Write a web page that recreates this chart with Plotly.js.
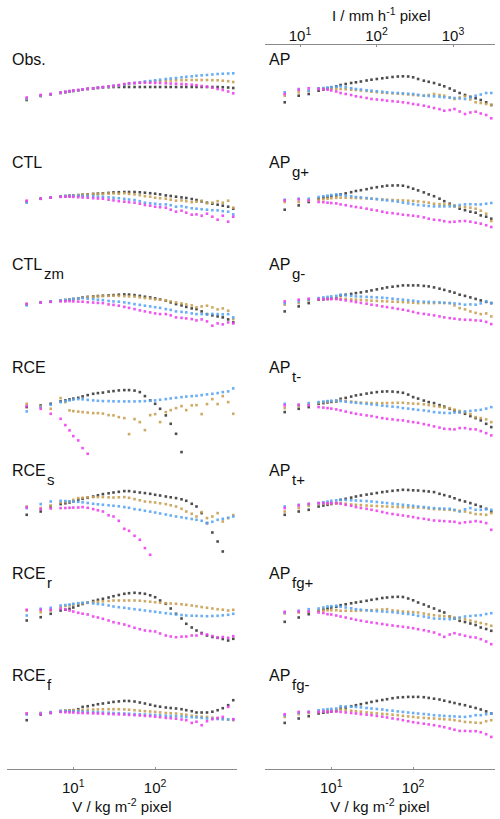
<!DOCTYPE html>
<html><head><meta charset="utf-8">
<script src="https://cdn.plot.ly/plotly-3.0.1.min.js"></script>
<style>body{margin:0;background:#fff}#c{width:500px;height:819px}</style>
</head><body><div id="c"></div>
<script>
// V bins (kg m-2 pixel)
const V = [2.7,4,5.3,7,8,9,10,11.5,13,15,17.5,20,23,27,31,36,42,48,56,65,75,87,100,115,135,155,180,210,240,280,320,370,430,500,580,670,780,900];
const mainLabels = ['Obs.','CTL','CTL','RCE','RCE','RCE','RCE','AP','AP','AP','AP','AP','AP','AP'];
const subLabels  = ['','','zm','','s','r','f','','g+','g-','t-','t+','fg+','fg-'];
const vTicks = [10,100], vTickText = ['10<sup>1</sup>','10<sup>2</sup>'];
const iTicks = [10,100,1000], iTickText = ['10<sup>1</sup>','10<sup>2</sup>','10<sup>3</sup>'];
const vTitle = 'V / kg m<sup>-2</sup> pixel';
const iTitle = 'I / mm h<sup>-1</sup> pixel';
const N = null;
// k = black, g = gold, b = blue, m = magenta (relative units)
const obs_k=[-0.1,0.3,0.45,0.6,0.68,0.75,0.8,0.87,0.93,1.0,1.05,1.1,1.15,1.18,1.2,1.2,1.2,1.2,1.2,1.2,1.2,1.2,1.2,1.2,1.2,1.2,1.2,1.2,1.2,1.2,1.2,1.2,1.2,1.2,1.2,1.18,1.15,1.1];
const obs_g=[0,0.35,0.47,0.62,0.7,0.77,0.82,0.88,0.94,1.0,1.06,1.12,1.17,1.22,1.28,1.35,1.45,1.53,1.58,1.63,1.7,1.73,1.77,1.8,1.83,1.85,1.87,1.88,1.9,1.9,1.9,1.9,1.9,1.88,1.87,1.83,1.78,1.7];
const obs_b=[0.05,0.37,0.48,0.63,0.71,0.78,0.83,0.89,0.95,1.02,1.07,1.13,1.18,1.24,1.3,1.37,1.45,1.55,1.6,1.67,1.75,1.8,1.87,1.93,2.0,2.05,2.1,2.17,2.22,2.27,2.32,2.37,2.4,2.45,2.5,2.53,2.55,2.57];
const obs_m=[0.15,0.4,0.5,0.65,0.72,0.8,0.85,0.9,0.96,1.03,1.08,1.14,1.2,1.27,1.33,1.4,1.5,1.57,1.6,1.62,1.63,1.62,1.6,1.6,1.57,1.55,1.53,1.5,1.47,1.43,1.38,1.3,1.23,1.13,1.0,0.9,0.75,0.57];

const ctl_k=[0,0.3,0.43,0.53,0.57,0.6,0.62,0.66,0.7,0.74,0.78,0.81,0.84,0.88,0.93,0.95,0.97,0.97,0.97,0.94,0.9,0.85,0.8,0.73,0.63,0.57,0.5,0.43,0.37,0.27,0.17,0.03,-0.1,-0.2,-0.3,-0.4,-0.5,-0.7];
const ctl_g=[0.05,0.3,0.4,0.5,0.55,0.58,0.6,0.65,0.7,0.72,0.75,0.78,0.8,0.82,0.83,0.8,0.85,0.78,0.73,0.65,0.55,0.5,0.4,0.35,0.3,0.2,0.1,0.13,0.05,-0.05,0,0.1,-0.15,-0.1,0.05,-0.1,0.1,-0.6];
const ctl_b=[-0.1,0.28,0.42,0.52,0.55,0.57,0.58,0.6,0.57,0.56,0.55,0.52,0.5,0.45,0.4,0.35,0.28,0.22,0.17,0.05,-0.1,-0.15,-0.2,-0.27,-0.27,-0.35,-0.5,-0.45,-0.55,-0.65,-0.7,-0.75,-0.8,-0.85,-0.87,-0.95,-1.0,-1.27];
const ctl_m=[0.1,0.3,0.4,0.48,0.5,0.5,0.48,0.45,0.42,0.4,0.35,0.32,0.3,0.2,0.13,0.05,0,-0.05,-0.1,-0.2,-0.33,-0.4,-0.5,-0.55,-0.6,-0.8,-1.0,-0.9,-1.1,-1.3,-1.27,-1.4,-1.2,-1.5,-1.8,-1.4,-2.0,-1.5];

const ctlzm_k=[0,0.2,0.27,0.37,0.42,0.47,0.53,0.6,0.7,0.75,0.8,0.84,0.87,0.9,0.93,0.97,1.0,0.98,0.93,0.85,0.77,0.7,0.6,0.5,0.37,0.2,0.03,-0.1,-0.25,-0.4,-0.47,-0.7,-0.97,-1.1,-1.2,-1.3,-1.5,-1.8];
const ctlzm_g=[0.05,0.22,0.3,0.4,0.45,0.5,0.55,0.62,0.68,0.73,0.78,0.8,0.83,0.85,0.87,0.85,0.83,0.8,0.78,0.7,0.63,0.58,0.5,0.47,0.4,0.3,0.2,0.1,0.0,-0.1,-0.3,-0.2,-0.13,-0.3,-0.5,-0.4,-0.63,-1.47];
const ctlzm_b=[-0.1,0.2,0.3,0.4,0.45,0.5,0.55,0.6,0.63,0.57,0.52,0.47,0.43,0.35,0.3,0.27,0.2,0.13,0.03,-0.05,-0.13,-0.2,-0.28,-0.35,-0.47,-0.55,-0.7,-0.75,-0.8,-0.9,-0.97,-0.97,-1.0,-0.95,-0.97,-1.0,-0.97,-1.3];
const ctlzm_m=[0.05,0.2,0.25,0.3,0.3,0.32,0.3,0.28,0.27,0.22,0.18,0.15,0.13,0.0,-0.05,-0.13,-0.25,-0.35,-0.47,-0.6,-0.7,-0.8,-0.9,-0.97,-0.97,-1.1,-1.3,-1.35,-1.4,-1.47,-1.6,-1.5,-1.7,-2.13,-1.9,-2.0,-1.8,-1.9];

const rce_k=[0,0.17,0.33,0.57,0.67,0.77,0.85,0.93,1.07,1.2,1.33,1.4,1.45,1.55,1.6,1.67,1.7,1.7,1.65,1.5,1.1,0.67,0.33,-0.17,-0.83,-1.67,-2.67,-4.5,N,N,N,N,N,N,N,N,N,N];
const rce_g=[0.33,0.1,-0.17,0.9,0.5,-0.33,-0.4,-0.45,-0.5,-0.55,-0.6,-0.6,-0.65,-0.8,-0.83,-1.0,-1.1,-2.7,-1.2,-1.5,-2.3,-0.8,-0.7,-1.5,-0.5,-0.3,-0.1,0.1,-0.3,0.17,0.2,-0.7,0.3,0.8,0.3,1.1,0.5,-0.67];
const rce_b=[-0.43,0,0.23,0.5,0.6,0.67,0.75,0.8,0.78,0.72,0.67,0.63,0.6,0.6,0.58,0.57,0.57,0.57,0.57,0.58,0.6,0.63,0.67,0.73,0.8,0.87,0.93,1.0,1.05,1.1,1.13,1.2,1.27,1.33,1.4,1.5,1.57,1.87];
const rce_m=[0.1,-0.17,-0.67,-1.17,-1.8,-2.33,-2.9,-3.33,-4.1,-4.67,-5.2,N,N,N,N,N,N,N,N,N,N,N,N,N,N,N,N,N,N,N,N,N,N,N,N,N,N,N];

const rces_k=[-0.5,-0.17,0.33,0.57,0.65,0.73,0.85,1.0,1.1,1.2,1.33,1.45,1.57,1.65,1.73,1.8,1.87,1.87,1.8,1.73,1.67,1.6,1.5,1.43,1.33,1.25,1.17,1.05,0.9,0.6,0.33,-0.33,-1.33,-2.27,-3.17,-4.17,N,N];
const rces_g=[0.33,0.17,0.43,0.73,0.78,0.83,1.0,1.17,1.2,1.25,1.27,1.27,1.27,1.25,1.23,1.25,1.27,1.2,1.07,0.95,0.83,0.78,0.73,0.65,0.57,0.45,0.33,0.1,-0.17,-0.4,-0.67,-0.23,-0.83,-0.67,-0.33,-1.17,-0.83,-0.53];
const rces_b=[0.17,0.57,0.83,0.9,0.87,0.85,0.82,0.8,0.75,0.68,0.6,0.55,0.5,0.45,0.4,0.35,0.27,0.2,0.07,0.0,-0.1,-0.18,-0.27,-0.37,-0.47,-0.57,-0.67,-0.75,-0.83,-0.92,-1.0,-1.1,-1.33,-1.2,-1.0,-0.9,-0.8,-0.67];
const rces_m=[0.23,0.07,0.13,0.17,0.18,0.2,0.22,0.23,0.27,0.2,0.07,-0.05,-0.17,-0.55,-0.67,-1.1,-1.9,-2.1,-2.6,-3.0,-3.83,-4.5,N,N,N,N,N,N,N,N,N,N,N,N,N,N,N,N];

const rcer_k=[-0.8,-0.47,-0.13,0.2,0.28,0.37,0.5,0.7,0.85,0.97,1.15,1.27,1.37,1.5,1.63,1.75,1.87,1.93,1.97,1.93,1.87,1.72,1.53,1.2,0.87,0.4,-0.13,-0.6,-1.13,-1.5,-1.8,-2.05,-2.3,-2.45,-2.53,-2.65,-2.8,-2.63];
const rcer_g=[0.2,0.03,0.2,0.53,0.65,0.7,0.78,0.87,0.93,0.98,1.03,1.08,1.12,1.15,1.2,1.2,1.2,1.2,1.2,1.18,1.13,1.08,1.03,0.98,0.93,0.9,0.87,0.82,0.77,0.7,0.63,0.55,0.47,0.4,0.33,0.28,0.2,0.27];
const rcer_b=[-0.3,0.37,0.47,0.7,0.75,0.8,0.87,0.93,0.97,1.0,0.9,0.85,0.8,0.7,0.6,0.53,0.47,0.4,0.33,0.27,0.2,0.13,0.07,0.0,-0.07,-0.13,-0.2,-0.25,-0.3,-0.32,-0.33,-0.35,-0.37,-0.35,-0.33,-0.28,-0.23,-0.13];
const rcer_m=[0.27,0.27,0.27,0.37,0.3,0.2,0.1,-0.03,-0.12,-0.2,-0.4,-0.5,-0.63,-0.8,-0.97,-1.08,-1.2,-1.35,-1.53,-1.67,-1.8,-1.85,-1.9,-2.1,-2.3,-2.4,-2.47,-2.42,-2.4,-2.3,-2.3,-2.13,-2.2,-2.35,-2.53,-2.45,-2.53,-2.37];

const rcef_k=[-0.5,0.07,0.23,0.37,0.43,0.47,0.5,0.6,0.83,0.9,1.0,1.1,1.17,1.25,1.33,1.38,1.43,1.42,1.37,1.27,1.17,1.05,0.93,0.85,0.77,0.72,0.67,0.6,0.5,0.4,0.27,0.27,0.27,0.35,0.5,0.7,1.0,1.5];
const rcef_g=[0.17,0.23,0.3,0.43,0.45,0.47,0.5,0.5,0.52,0.55,0.57,0.58,0.59,0.6,0.6,0.6,0.58,0.55,0.5,0.45,0.4,0.37,0.33,0.28,0.22,0.2,0.17,0.1,0.05,-0.05,-0.1,-0.15,-0.17,-0.25,-0.33,-0.38,-0.43,-0.5];
const rcef_b=[0.07,0.17,0.3,0.43,0.42,0.4,0.4,0.4,0.38,0.35,0.32,0.3,0.27,0.25,0.22,0.2,0.17,0.15,0.12,0.1,0.07,0.05,0.02,0.0,-0.05,-0.08,-0.1,-0.13,-0.18,-0.2,-0.23,-0.27,-0.33,-0.35,-0.38,-0.4,-0.43,-0.43];
const rcef_m=[0.17,0.13,0.23,0.33,0.3,0.28,0.27,0.23,0.22,0.2,0.18,0.17,0.15,0.12,0.1,0.08,0.07,0.03,0.0,-0.03,-0.07,-0.1,-0.15,-0.2,-0.27,-0.3,-0.35,-0.43,-0.5,-0.77,-0.65,-1.0,-0.6,-0.4,-0.27,-0.17,0.83,-0.4];

const ap_k=[-0.33,0.33,0.5,0.83,0.95,1.07,1.15,1.27,1.4,1.5,1.6,1.67,1.75,1.85,1.93,2.0,2.07,2.13,2.2,2.25,2.27,2.25,2.17,2.0,1.83,1.72,1.6,1.43,1.27,1.05,0.83,0.6,0.4,0.22,0.07,-0.1,-0.33,-0.6];
const ap_g=[0.33,0.67,0.8,1.07,1.05,1.03,1.02,1.0,1.0,0.97,0.93,0.9,0.85,0.8,0.73,0.68,0.63,0.6,0.57,0.53,0.5,0.45,0.4,0.37,0.33,0.4,0.5,0.4,0.33,0.15,0.0,0.15,0.27,-0.05,-0.33,-0.4,-0.5,-0.6];
const ap_b=[0.67,1.0,0.83,1.07,1.1,1.15,1.2,1.23,1.27,1.18,1.08,1.0,0.95,0.88,0.83,0.78,0.72,0.67,0.62,0.6,0.57,0.53,0.5,0.42,0.33,0.3,0.27,0.22,0.17,0.13,0.1,0.05,0.0,0.15,0.33,0.45,0.6,0.6];
const ap_m=[0.5,0.93,1.07,1.0,0.98,0.93,0.85,0.75,0.6,0.5,0.4,0.27,0.2,0.1,0.0,-0.05,-0.1,-0.17,-0.22,-0.27,-0.33,-0.4,-0.5,-0.57,-0.67,-0.78,-0.9,-1.02,-1.17,-1.1,-1.0,-1.25,-1.5,-1.35,-1.27,-1.45,-1.6,-1.93];

const apgp_k=[-0.8,-0.37,-0.03,0.3,0.4,0.47,0.55,0.63,0.73,0.83,0.95,1.07,1.15,1.25,1.37,1.45,1.53,1.6,1.62,1.63,1.6,1.47,1.3,1.13,0.93,0.73,0.55,0.3,0.05,-0.2,-0.45,-0.7,-0.85,-1.0,-1.1,-1.37,-1.5,-1.7];
const apgp_g=[-0.03,-0.03,0.1,0.2,0.25,0.3,0.35,0.38,0.4,0.4,0.38,0.37,0.35,0.33,0.3,0.27,0.23,0.2,0.17,0.15,0.13,0.1,0.07,0.03,-0.03,-0.1,-0.2,-0.25,-0.28,-0.3,-0.4,-0.5,-0.55,-0.6,-0.7,-0.9,-1.2,-1.93];
const apgp_b=[0.2,0.3,0.3,0.47,0.55,0.6,0.67,0.73,0.68,0.63,0.55,0.47,0.43,0.37,0.3,0.25,0.18,0.13,0.07,0.0,-0.1,-0.17,-0.25,-0.33,-0.38,-0.43,-0.47,-0.47,-0.47,-0.47,-0.4,-0.33,-0.27,-0.25,-0.27,-0.27,-0.2,-0.13];
const apgp_m=[0.13,0.23,0.13,-0.03,-0.05,-0.1,-0.13,-0.17,-0.27,-0.35,-0.45,-0.53,-0.6,-0.7,-0.8,-0.88,-1.0,-1.1,-1.15,-1.22,-1.3,-1.35,-1.4,-1.47,-1.57,-1.7,-1.8,-1.85,-1.95,-2.03,-2.0,-1.95,-1.93,-2.0,-2.1,-2.2,-2.35,-2.53];

const apgm_k=[-0.7,-0.2,0.13,0.47,0.5,0.55,0.6,0.63,0.9,0.97,1.05,1.13,1.2,1.3,1.4,1.5,1.6,1.7,1.77,1.83,1.9,1.9,1.9,1.9,1.85,1.8,1.7,1.57,1.45,1.3,1.17,0.97,0.85,0.7,0.55,0.4,0.25,0.13];
const apgm_g=[-0.03,0.13,0.4,0.53,0.55,0.56,0.57,0.57,0.57,0.55,0.5,0.47,0.45,0.4,0.37,0.35,0.32,0.3,0.27,0.25,0.23,0.2,0.17,0.13,0.15,0.13,0.13,0.15,0.13,0.13,-0.1,-0.37,-0.5,-0.7,-0.85,-0.97,-0.9,-1.2];
const apgm_b=[0.13,0.3,0.47,0.63,0.7,0.75,0.8,0.85,0.97,0.9,0.85,0.8,0.78,0.75,0.73,0.7,0.67,0.63,0.57,0.52,0.47,0.42,0.37,0.3,0.27,0.25,0.23,0.2,0.17,0.13,0.1,0.05,-0.03,0.0,-0.03,0.1,0.3,0.13];
const apgm_m=[0.3,0.47,0.57,0.53,0.53,0.53,0.53,0.53,0.47,0.4,0.32,0.23,0.15,0.07,-0.03,-0.1,-0.2,-0.27,-0.35,-0.45,-0.53,-0.63,-0.75,-0.87,-0.95,-1.02,-1.1,-1.2,-1.3,-1.37,-1.43,-1.5,-1.53,-1.55,-1.6,-1.63,-1.75,-1.97];

const aptm_k=[-0.5,-0.17,0,0.33,0.4,0.47,0.52,0.57,0.83,0.92,1.05,1.17,1.25,1.35,1.43,1.5,1.55,1.57,1.55,1.5,1.43,1.25,1.0,0.85,0.65,0.5,0.4,0.2,0.05,-0.17,-0.35,-0.5,-0.67,-0.9,-1.1,-1.33,-1.67,-2.0];
const aptm_g=[-0.1,0.1,0.3,0.43,0.5,0.55,0.6,0.63,0.67,0.6,0.55,0.5,0.45,0.43,0.4,0.4,0.4,0.4,0.42,0.43,0.43,0.38,0.35,0.33,0.28,0.2,0.1,0.03,-0.05,-0.1,-0.25,-0.38,-0.5,-0.7,-1.0,-1.1,-1.23,-1.5];
const aptm_b=[0.33,0.23,0.4,0.5,0.55,0.6,0.63,0.67,0.6,0.55,0.48,0.43,0.38,0.32,0.27,0.22,0.15,0.1,0.05,0.0,-0.1,-0.15,-0.22,-0.28,-0.33,-0.4,-0.5,-0.55,-0.58,-0.6,-0.55,-0.5,-0.43,-0.38,-0.33,-0.27,-0.15,0.0];
const aptm_m=[0.17,0.23,0.17,0.0,-0.05,-0.1,-0.15,-0.23,-0.33,-0.45,-0.57,-0.67,-0.75,-0.83,-0.9,-1.0,-1.1,-1.17,-1.23,-1.3,-1.33,-1.43,-1.5,-1.57,-1.7,-1.8,-1.93,-2.05,-2.17,-2.2,-2.23,-2.1,-2.1,-2.2,-2.23,-2.4,-2.6,-2.83];

const aptp_k=[-0.5,-0.17,0,0.33,0.43,0.5,0.58,0.67,1.0,1.1,1.22,1.33,1.43,1.52,1.6,1.68,1.77,1.83,1.9,1.95,2.0,1.98,1.95,1.93,1.88,1.83,1.77,1.6,1.47,1.33,1.15,0.97,0.83,0.67,0.5,0.33,0.1,-0.17];
const aptp_g=[-0.17,0.17,0.4,0.57,0.6,0.62,0.63,0.65,0.67,0.6,0.53,0.5,0.47,0.43,0.4,0.38,0.35,0.33,0.3,0.28,0.27,0.25,0.23,0.23,0.2,0.13,0.07,0.05,0.02,0.0,-0.05,-0.1,-0.17,-0.3,-0.43,-0.45,-0.5,-0.33];
const aptp_b=[0.33,0.5,0.57,0.67,0.75,0.82,0.9,0.95,1.0,0.98,0.95,0.93,0.9,0.87,0.83,0.78,0.72,0.67,0.62,0.55,0.5,0.45,0.4,0.33,0.28,0.22,0.17,0.13,0.12,0.1,0.0,-0.17,0.05,0.17,0.0,0.0,0.05,0.0];
const aptp_m=[0.17,0.43,0.6,0.67,0.67,0.67,0.67,0.67,0.6,0.5,0.4,0.27,0.18,0.1,0.0,-0.1,-0.22,-0.33,-0.42,-0.5,-0.57,-0.65,-0.73,-0.83,-0.9,-0.98,-1.07,-1.1,-1.13,-1.17,-1.2,-1.33,-1.25,-1.2,-1.13,-1.2,-1.33,-2.0];

const apfgp_k=[-0.93,-0.5,-0.17,0.17,0.3,0.4,0.5,0.57,0.73,0.82,0.92,1.0,1.08,1.17,1.27,1.35,1.45,1.5,1.55,1.57,1.55,1.4,1.22,1.0,0.8,0.6,0.4,0.17,0.0,-0.4,-0.6,-0.83,-0.95,-1.1,-1.25,-1.5,-1.65,-1.83];
const apfgp_g=[-0.1,0.0,0.07,0.17,0.2,0.22,0.23,0.23,0.17,0.17,0.17,0.17,0.2,0.23,0.23,0.27,0.3,0.33,0.2,0.17,0.1,0.07,0.03,0.0,-0.1,-0.2,-0.27,-0.33,-0.37,-0.4,-0.5,-0.57,-0.67,-0.8,-0.93,-1.05,-1.17,-1.33];
const apfgp_b=[0.0,0.17,0.33,0.4,0.5,0.6,0.63,0.67,0.57,0.5,0.42,0.33,0.28,0.22,0.17,0.13,0.1,0.07,0.03,-0.03,-0.1,-0.15,-0.22,-0.33,-0.4,-0.5,-0.6,-0.62,-0.65,-0.67,-0.6,-0.5,-0.4,-0.35,-0.3,-0.27,-0.15,-0.07];
const apfgp_m=[0.07,0.1,0.1,0.0,-0.05,-0.17,-0.2,-0.3,-0.4,-0.5,-0.62,-0.73,-0.82,-0.92,-1.0,-1.07,-1.15,-1.23,-1.3,-1.37,-1.43,-1.5,-1.57,-1.67,-1.77,-1.88,-2.0,-2.2,-2.43,-2.2,-2.07,-2.2,-2.33,-2.45,-2.5,-2.67,-2.9,-3.17];

const apfgm_k=[-0.77,-0.33,-0.1,0.17,0.25,0.3,0.37,0.43,0.67,0.77,0.9,1.0,1.1,1.22,1.33,1.43,1.52,1.6,1.7,1.77,1.8,1.83,1.83,1.83,1.8,1.73,1.65,1.57,1.45,1.33,1.22,1.1,1.0,0.85,0.72,0.57,0.38,0.17];
const apfgm_g=[-0.17,0.1,0.23,0.33,0.4,0.45,0.5,0.55,0.57,0.5,0.45,0.4,0.35,0.28,0.23,0.18,0.13,0.1,0.05,0.0,-0.07,-0.12,-0.17,-0.23,-0.27,-0.3,-0.33,-0.37,-0.4,-0.43,-0.5,-0.57,-0.67,-0.7,-0.75,-0.77,-0.6,-0.5];
const apfgm_b=[0.0,0.23,0.33,0.5,0.55,0.6,0.63,0.67,0.9,0.87,0.85,0.83,0.78,0.72,0.67,0.62,0.57,0.5,0.45,0.38,0.33,0.27,0.22,0.17,0.12,0.07,0.0,-0.03,-0.07,-0.1,-0.12,-0.15,-0.17,-0.1,0.0,0.0,0.1,0.17];
const apfgm_m=[0.1,0.33,0.33,0.33,0.35,0.35,0.37,0.37,0.33,0.27,0.22,0.17,0.1,0.05,0.0,-0.07,-0.15,-0.23,-0.32,-0.4,-0.5,-0.6,-0.7,-0.77,-0.85,-0.92,-1.0,-1.1,-1.2,-1.33,-1.45,-1.57,-1.57,-1.6,-1.6,-1.7,-1.9,-2.17];

const panelSeries = [
  [obs_k,obs_g,obs_b,obs_m],[ctl_k,ctl_g,ctl_b,ctl_m],[ctlzm_k,ctlzm_g,ctlzm_b,ctlzm_m],
  [rce_k,rce_g,rce_b,rce_m],[rces_k,rces_g,rces_b,rces_m],[rcer_k,rcer_g,rcer_b,rcer_m],[rcef_k,rcef_g,rcef_b,rcef_m],
  [ap_k,ap_g,ap_b,ap_m],[apgp_k,apgp_g,apgp_b,apgp_m],[apgm_k,apgm_g,apgm_b,apgm_m],
  [aptm_k,aptm_g,aptm_b,aptm_m],[aptp_k,aptp_g,aptp_b,aptp_m],[apfgp_k,apfgp_g,apfgp_b,apfgp_m],[apfgm_k,apfgm_g,apfgm_b,apfgm_m]
];

// ---- styling / layout ----
const W = 500, H = 819;
const colors = ['#3a3a3a','#c9a052','#5aa5f5','#f040f0'];
const FONT = 'Liberation Sans, Arial, Helvetica, sans-serif';
const colX = [[7,237],[265,495]];
const topY = 45, rowH = 102.7, bottomY = 769, baseOff = 54;
const xr = [Math.log10(1.55), Math.log10(1000)];
const txt = {family: FONT, color: '#111'};

const measure = document.createElement('canvas').getContext('2d');
measure.font = '16px "Liberation Sans"';

const traces = [];
const layout = {
  width: W, height: H, margin: {l:0,r:0,t:0,b:0},
  paper_bgcolor: '#fff', plot_bgcolor: 'rgba(0,0,0,0)', showlegend: false,
  font: txt, annotations: []
};

for (let i = 0; i < 14; i++) {
  const col = i < 7 ? 0 : 1, row = i % 7, n = i + 1;
  const top = topY + rowH * row;
  const bot = row === 6 ? bottomY : top + rowH;
  const xs = n === 1 ? '' : String(n);
  const xa = {
    type: 'log', range: xr, domain: [colX[col][0] / W, colX[col][1] / W], anchor: 'y' + xs,
    visible: row === 6, showgrid: false, zeroline: false, fixedrange: true
  };
  if (row === 6) Object.assign(xa, {
    showline: true, linecolor: '#8a8a8a', linewidth: 1,
    ticks: 'inside', ticklen: 2, tickcolor: '#8a8a8a', ticklabelstandoff: 5,
    tickvals: vTicks, ticktext: vTickText, tickfont: Object.assign({size: 15}, txt),
    title: {text: vTitle, font: Object.assign({size: 15}, txt), standoff: 0}
  });
  layout['xaxis' + xs] = xa;
  layout['yaxis' + xs] = {
    domain: [1 - bot / H, 1 - top / H], anchor: 'x' + xs, visible: false,
    range: [-(bot - top - baseOff) / 10, baseOff / 10], fixedrange: true
  };
  panelSeries[i].forEach((ys, k) => {
    traces.push({
      x: V, y: ys, type: 'scatter', mode: 'markers', cliponaxis: false,
      xaxis: 'x' + xs, yaxis: 'y' + xs, hoverinfo: 'skip',
      marker: {symbol: 'square', size: 2.6, color: colors[k], opacity: 0.9, line: {width: 0}}
    });
  });
  const lx = col === 0 ? 11 : 268;
  layout.annotations.push({
    xref: 'paper', yref: 'paper', x: lx / W, y: 1 - (top + 5) / H,
    xanchor: 'left', yanchor: 'top', showarrow: false, text: mainLabels[i],
    font: Object.assign({size: 16}, txt), borderpad: 0
  });
  if (subLabels[i]) {
    const w = measure.measureText(mainLabels[i]).width;
    layout.annotations.push({
      xref: 'paper', yref: 'paper', x: (lx + w + 1.5) / W, y: 1 - (top + 14) / H,
      xanchor: 'left', yanchor: 'top', showarrow: false, text: subLabels[i],
      font: Object.assign({size: 15}, txt), borderpad: 0
    });
  }
}

// top intensity axis over the AP panel
layout.xaxis15 = {
  type: 'log', range: [0.5425, 3.549], overlaying: 'x8', anchor: 'y8', side: 'top',
  showgrid: false, zeroline: false, showline: true, linecolor: '#8a8a8a', linewidth: 1,
  ticks: 'inside', ticklen: 2, tickcolor: '#8a8a8a', ticklabelstandoff: -3,
  tickvals: iTicks, ticktext: iTickText, tickfont: Object.assign({size: 15}, txt),
  fixedrange: true
};
layout.annotations.push({
  xref: 'paper', yref: 'paper', x: 381 / W, y: 1 - 14 / H, xanchor: 'center', yanchor: 'middle',
  showarrow: false, text: iTitle, font: Object.assign({size: 15}, txt), borderpad: 0
});
traces.push({x: [], y: [], type: 'scatter', mode: 'markers', xaxis: 'x15', yaxis: 'y8', hoverinfo: 'skip'});

Plotly.newPlot('c', traces, layout, {staticPlot: true, displayModeBar: false});
</script>
</body></html>
